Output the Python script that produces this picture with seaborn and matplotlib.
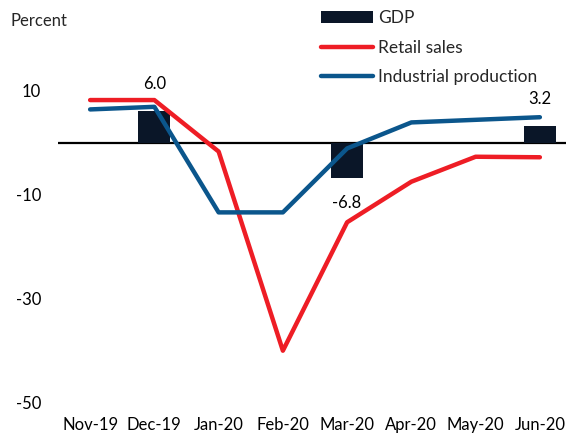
import numpy as np
import pandas as pd
import matplotlib
matplotlib.use("Agg")
import matplotlib.pyplot as plt
import seaborn as sns
from matplotlib.patches import Patch
from matplotlib.lines import Line2D

months = ["Nov-19", "Dec-19", "Jan-20", "Feb-20", "Mar-20", "Apr-20", "May-20", "Jun-20"]
gdp_months = ["Dec-19", "Mar-20", "Jun-20"]
gdp_values = [6.0, -6.8, 3.2]
retail_sales = [8.2, 8.2, -1.7, -40.0, -15.3, -7.5, -2.7, -2.8]
industrial_production = [6.4, 6.9, -13.4, -13.4, -1.1, 3.9, 4.4, 4.9]
y_ticks = [10, -10, -30, -50]

BAR_C = "#0a1628"
RED_C = "#ee1d25"
BLUE_C = "#0b568c"

sns.set_theme(style="white")
plt.rcParams["font.family"] = ["Lato", "DejaVu Sans"]

fig = plt.figure(figsize=(5.66, 4.37), dpi=100)
ax = fig.add_axes([58 / 566, 1 - 402.7 / 437, 1 - 58 / 566, (402.7 - 38.7) / 437])

gdp_df = pd.DataFrame({"month": gdp_months, "value": gdp_values})
sns.barplot(data=gdp_df, x="month", y="value", order=months, color=BAR_C,
            saturation=1, width=0.5, ax=ax, zorder=2, linewidth=0, edgecolor="none")

pos = np.arange(len(months))
lines_df = pd.DataFrame({"pos": pos, "retail": retail_sales, "ip": industrial_production})
sns.lineplot(data=lines_df, x="pos", y="retail", color=RED_C, linewidth=3.2,
             ax=ax, sort=False, zorder=3)
sns.lineplot(data=lines_df, x="pos", y="ip", color=BLUE_C, linewidth=3.2,
             ax=ax, sort=False, zorder=3)

ax.axhline(0, color="black", linewidth=1.6, zorder=1)

ax.set_xlim(-0.5, 7.5 - 6 / 64.3)
ax.set_ylim(-50, 20)
ax.set_yticks(y_ticks)
ax.set_yticklabels([str(t) for t in y_ticks])
ax.set_xticks(pos)
ax.set_xticklabels(months)
ax.set_xlabel("")
ax.set_ylabel("")
for s in ax.spines.values():
    s.set_visible(False)
ax.tick_params(axis="both", length=0, labelsize=12, colors="black")
ax.tick_params(axis="y", pad=12)
ax.tick_params(axis="x", pad=10)

# GDP value labels
for m, v in zip(gdp_months, gdp_values):
    i = months.index(m)
    if v >= 0:
        ax.annotate(f"{v:.1f}", (i, v), xytext=(0, 14), textcoords="offset points",
                    ha="center", va="bottom", fontsize=12, color="black", zorder=5)
    else:
        ax.annotate(f"{v:.1f}", (i, v), xytext=(0, -12), textcoords="offset points",
                    ha="center", va="top", fontsize=12, color="black", zorder=5)

fig.text(10 / 566, 1 - 21 / 437, "Percent", fontsize=12, ha="left", va="center")

handles = [
    Patch(facecolor=BAR_C, edgecolor="none"),
    Line2D([0], [0], color=RED_C, linewidth=3.2),
    Line2D([0], [0], color=BLUE_C, linewidth=3.2),
]
fig.legend(handles, ["GDP", "Retail sales", "Industrial production"],
           loc="upper left", bbox_to_anchor=(321 / 566, 1 - 10 / 437),
           frameon=False, fontsize=12.5, borderpad=0, borderaxespad=0,
           handlelength=3.0, handleheight=0.65, handletextpad=0.3, labelspacing=0.78)

fig.savefig("out.png", dpi=100)
